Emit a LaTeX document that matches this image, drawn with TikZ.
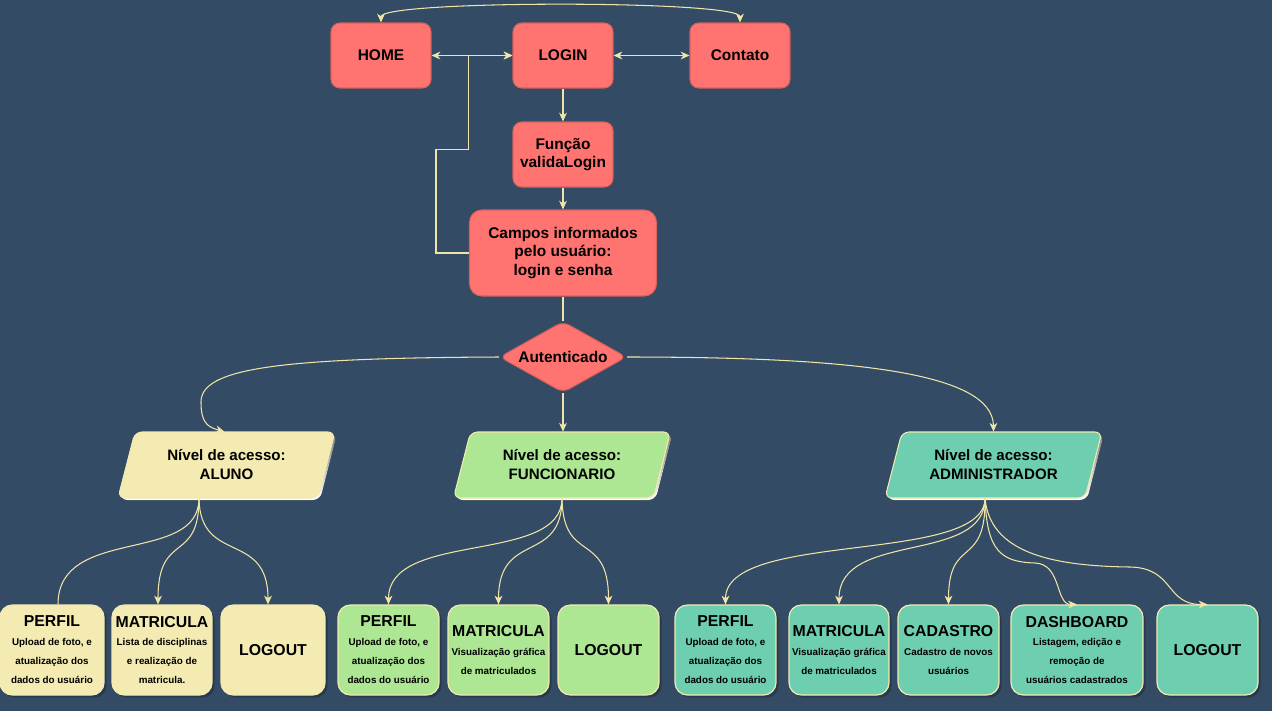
\documentclass[tikz,border=0pt]{standalone}
\usepackage{fontspec}
\setmainfont{Liberation Sans}
\usetikzlibrary{arrows.meta,calc,shapes.geometric,shadows}
\definecolor{bgclr}{HTML}{344B65}
\definecolor{redfill}{HTML}{FF7470}
\definecolor{redline}{HTML}{D8605B}
\definecolor{cream}{HTML}{F2EAB0}
\definecolor{wireclr}{HTML}{EFE5A8}
\definecolor{alunofill}{HTML}{F3EBB1}
\definecolor{funcfill}{HTML}{ADE793}
\definecolor{adminfill}{HTML}{6ECEB0}
\definecolor{shade}{HTML}{27394D}

% bigger first line inside a leaf box
\newcommand\leaftitle[1]{{\fontsize{9}{10.8}\selectfont #1}}
% parallelogram (with shadow) around a centre coordinate
\newcommand\levelshape[2]{%
  \fill[shade,rounded corners=4pt] ($(#1)+(-89.5,-31)$) -- ($(#1)+(110.5,-31)$) -- ($(#1)+(93.5,35)$) -- ($(#1)+(-106.5,35)$) -- cycle;
  \filldraw[fill=#2,draw=cream,line width=0.6pt,rounded corners=4pt] ($(#1)+(-91.5,-33)$) -- ($(#1)+(108.5,-33)$) -- ($(#1)+(91.5,33)$) -- ($(#1)+(-108.5,33)$) -- cycle;}

\begin{document}
\begin{tikzpicture}[x=0.02cm,y=-0.02cm,
  >={Stealth[length=5pt,width=4.4pt,inset=1.5pt]},
  wire/.style={draw=wireclr,line width=0.6pt},
  redbox/.style={rounded corners=5pt,fill=redfill,draw=redline,line width=0.6pt,align=center,
    font=\bfseries\fontsize{8.8}{10.5}\selectfont,minimum width=2cm,minimum height=1.3cm,inner sep=1pt},
  level/.style={minimum width=4cm,minimum height=1.32cm,align=center,inner sep=0pt,
    font=\bfseries\fontsize{8.6}{10.8}\selectfont},
  leaf/.style={rounded corners=7pt,draw=cream,line width=0.7pt,minimum height=1.8cm,align=center,inner sep=1pt,
    font=\bfseries\fontsize{5.6}{10.8}\selectfont,
    drop shadow={shadow xshift=1.5pt,shadow yshift=-1.5pt,fill=shade,opacity=1}},
]
\fill[bgclr] (0,0) rectangle (1272,711);
\useasboundingbox (0,0) rectangle (1272,711);

% top row and login flow
\node[redbox] (home) at (381,55.5) {HOME};
\node[redbox] (login) at (563,55.5) {LOGIN};
\node[redbox] (contato) at (740,55.5) {Contato};
\node[redbox] (valida) at (563,154.5) {Função\\validaLogin};
\node[redbox,minimum width=3.74cm,minimum height=1.72cm,rounded corners=7pt] (campos) at (563,253)
  {Campos informados\\pelo usuário:\\login e senha};
\node[diamond,fill=redfill,draw=redline,line width=0.6pt,rounded corners=4pt,shape aspect=1.9,
  minimum width=2.54cm,minimum height=1.42cm,inner sep=0pt,font=\bfseries\fontsize{8.8}{10.5}\selectfont] (aut) at (563,357) {Autenticado};

% access levels
\coordinate (alunoc) at (226.5,465);
\levelshape{alunoc}{alunofill}
\node[level] (aluno) at (alunoc) {Nível de acesso:\\ALUNO};
\coordinate (funcc) at (562,465);
\levelshape{funcc}{funcfill}
\node[level] (func) at (funcc) {Nível de acesso:\\FUNCIONARIO};
\coordinate (adminc) at (993.5,465);
\levelshape{adminc}{adminfill}
\node[level] (admin) at (adminc) {Nível de acesso:\\ADMINISTRADOR};

% aluno pages
\node[leaf,fill=alunofill,draw=alunofill,minimum width=2.08cm] (aperfil) at (52,650)
  {\leaftitle{PERFIL}\\Upload de foto, e\\atualização dos\\dados do usuário};
\node[leaf,fill=alunofill,draw=alunofill,minimum width=2cm] (amat) at (162,650)
  {\leaftitle{MATRICULA}\\Lista de disciplinas\\e realização de\\matricula.};
\node[leaf,fill=alunofill,draw=alunofill,minimum width=2.08cm] (alog) at (273,650) {\leaftitle{LOGOUT}};

% funcionario pages
\node[leaf,fill=funcfill,minimum width=2.02cm] (fperfil) at (388.5,650)
  {\leaftitle{PERFIL}\\Upload de foto, e\\atualização dos\\dados do usuário};
\node[leaf,fill=funcfill,minimum width=2.02cm] (fmat) at (498.5,650)
  {\leaftitle{MATRICULA}\\Visualização gráfica\\de matriculados};
\node[leaf,fill=funcfill,minimum width=2.02cm] (flog) at (608.5,650) {\leaftitle{LOGOUT}};

% administrador pages
\node[leaf,fill=adminfill,minimum width=2.02cm] (adperfil) at (725.5,650)
  {\leaftitle{PERFIL}\\Upload de foto, e\\atualização dos\\dados do usuário};
\node[leaf,fill=adminfill,minimum width=2cm] (admat) at (839,650)
  {\leaftitle{MATRICULA}\\Visualização gráfica\\de matriculados};
\node[leaf,fill=adminfill,minimum width=2.02cm] (adcad) at (948.5,650)
  {\leaftitle{CADASTRO}\\Cadastro de novos\\usuários};
\node[leaf,fill=adminfill,minimum width=2.64cm] (dash) at (1077,650)
  {\leaftitle{DASHBOARD}\\Listagem, edição e\\remoção de\\usuários cadastrados};
\node[leaf,fill=adminfill,minimum width=2.02cm] (adlog) at (1207.5,650) {\leaftitle{LOGOUT}};

% navigation between top pages
\draw[wire,<->] (home) -- (login);
\draw[wire,<->] (login) -- (contato);
\draw[wire,<->] (home.north) .. controls (381,0) and (740,0) .. (contato.north);
\draw[wire,->] (campos.west) -- ++(-33,0) |- ($(login.west)+(-44,94)$) -- ($(login.west)+(-44,0)$) -- (login.west);
\draw[wire,->] (login) -- (valida);
\draw[wire,->] (valida) -- (campos);
\draw[wire] (campos) -- (aut);

% decision to access levels
\draw[wire,->] (aut.west) .. controls (280,358) and (201,368) .. (201,402)
  .. controls (201,422) and (207,427) .. ($(aluno.north)+(-2,0)$);
\draw[wire,->] (aut.south) -- (aut.south |- func.north);
\draw[wire,->] (aut.east) .. controls (850,357) and (993,372) .. (admin.north);

% aluno branches
\coordinate (alo) at ($(aluno.south)+(-27.5,0)$);
\draw[wire] (alo) .. controls (199,565) and (58,525) .. ($(aperfil.north)+(6,0)$);
\draw[wire,->] (alo) .. controls (199,565) and (158,530) .. ($(amat.north)+(-4,0)$);
\draw[wire,->] (alo) .. controls (200,565) and (268,530) .. ($(alog.north)+(-5,0)$);

% funcionario branches
\coordinate (fo) at (func.south);
\draw[wire,->] (fo) .. controls (562,565) and (388.5,530) .. (fperfil.north);
\draw[wire,->] (fo) .. controls (562,565) and (498.5,530) .. (fmat.north);
\draw[wire,->] (fo) .. controls (563,565) and (608.5,530) .. (flog.north);

% administrador branches
\coordinate (ado) at ($(admin.south)+(-8.5,0)$);
\draw[wire,->] (ado) .. controls (985,565) and (725.5,530) .. (adperfil.north);
\draw[wire,->] (ado) .. controls (985,565) and (839,530) .. (admat.north);
\draw[wire,->] (ado) .. controls (986,570) and (948.5,535) .. (adcad.north);
\draw[wire,->] (ado) .. controls (987,550) and (1000,562) .. (1035,563)
  .. controls (1062,564) and (1055,605) .. (dash.north);
\draw[wire,->] (ado) .. controls (990,552) and (1050,566) .. (1130,567)
  .. controls (1175,568) and (1165,605) .. (adlog.north);
\end{tikzpicture}
\end{document}
